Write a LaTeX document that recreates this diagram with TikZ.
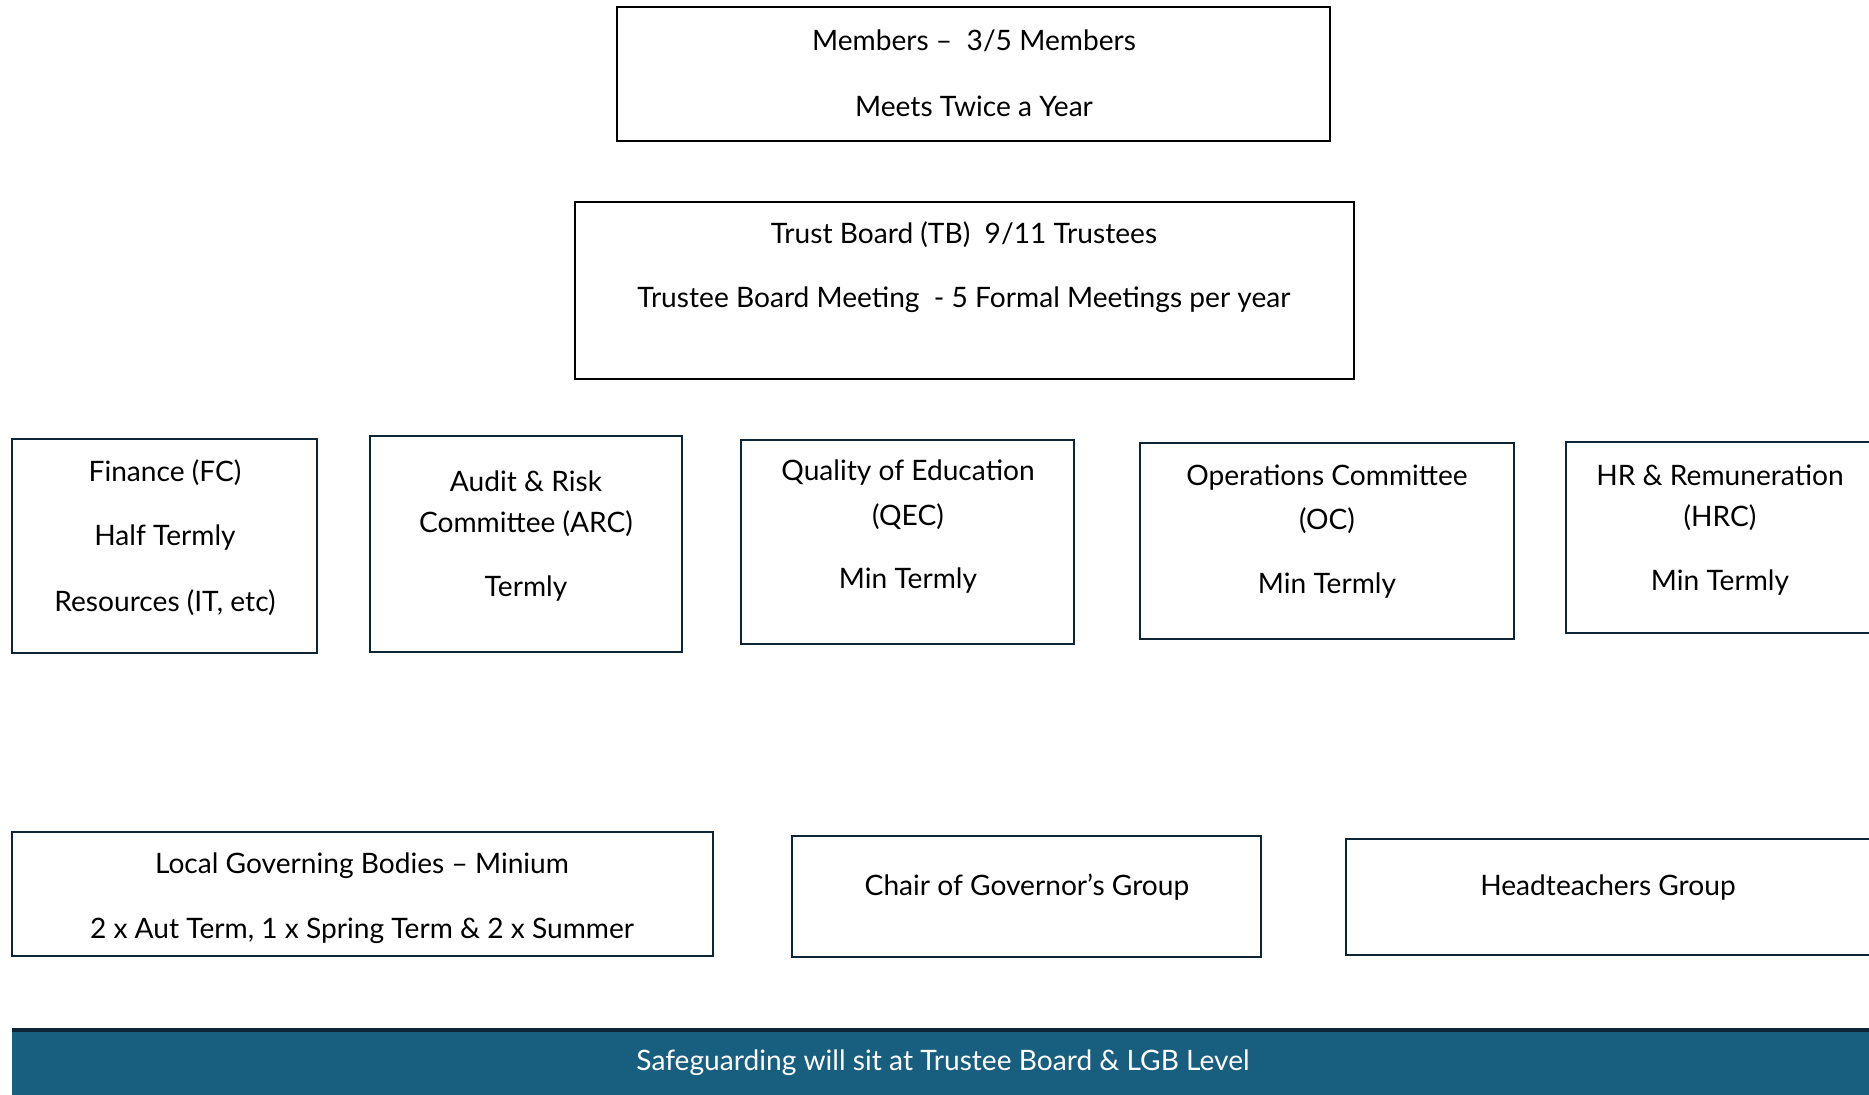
\documentclass[tikz,border=0pt]{standalone}
\usepackage{fontspec}
\setmainfont{Lato}
\definecolor{navy}{HTML}{0E2537}
\definecolor{barblue}{HTML}{185E7E}
\begin{document}
\begin{tikzpicture}[x=0.01cm,y=-0.01cm,
  topbox/.style={draw=black,line width=0.8pt,rectangle,inner sep=0pt},
  combox/.style={draw=navy,line width=0.8pt,rectangle,inner sep=0pt},
  txt/.style={font=\fontsize{8.0}{10}\selectfont,inner sep=0pt,anchor=center,text=black,yshift=-0.03cm}]
\useasboundingbox (0,0) rectangle (1869,1095);
% boxes
\draw[topbox] (617,7) rectangle (1330,141) node[pos=0.5,draw=none] (members) {};
\draw[topbox] (575,202) rectangle (1354,379) node[pos=0.5,draw=none] (tb) {};
\draw[combox] (12,439) rectangle (317,653) node[pos=0.5,draw=none] (fc) {};
\draw[combox] (370,436) rectangle (682,652) node[pos=0.5,draw=none] (arc) {};
\draw[combox] (741,440) rectangle (1074,644) node[pos=0.5,draw=none] (qec) {};
\draw[combox] (1140,443) rectangle (1514,639) node[pos=0.5,draw=none] (oc) {};
\draw[combox] (1566,442) rectangle (1900,633) node[pos=0.5,draw=none] (hrc) {};
\draw[combox] (12,832) rectangle (713,956) node[pos=0.5,draw=none] (lgb) {};
\draw[combox] (792,836) rectangle (1261,957) node[pos=0.5,draw=none] (cog) {};
\draw[combox] (1346,839) rectangle (1900,955) node[pos=0.5,draw=none] (ht) {};
\fill[barblue] (12,1030) rectangle (1900,1120);
\draw[navy,line width=0.9pt] (12,1030) -- (1900,1030);
\node[inner sep=0pt] (bar) at (956,1062) {};
% texts
\node[txt] (m1) at (974,38) {Members –\ \ 3/5 Members};
\node[txt] (m2) at (974,103) {Meets Twice a Year};
\node[txt] (t1) at (964,232) {Trust Board (TB)\ \ 9/11 Trustees};
\node[txt] (t2) at (964,297) {Trustee Board Meeting\ \ - 5 Formal Meetings per year};
\node[txt] (f1) at (165,470) {Finance (FC)};
\node[txt] (f2) at (165,535) {Half Termly};
\node[txt] (f3) at (165,600) {Resources (IT, etc)};
\node[txt] (a1) at (526,478) {Audit \& Risk};
\node[txt] (a2) at (526,521) {Committee (ARC)};
\node[txt] (a3) at (526,586) {Termly};
\node[txt] (q1) at (908,470) {Quality of Education};
\node[txt] (q2) at (908,514) {(QEC)};
\node[txt] (q3) at (908,578) {Min Termly};
\node[txt] (o1) at (1327,475) {Operations Committee};
\node[txt] (o2) at (1327,518) {(OC)};
\node[txt] (o3) at (1327,583) {Min Termly};
\node[txt] (h1) at (1720,472) {HR \& Remuneration};
\node[txt] (h2) at (1720,515) {(HRC)};
\node[txt] (h3) at (1720,580) {Min Termly};
\node[txt] (l1) at (362,863) {Local Governing Bodies – Minium};
\node[txt] (l2) at (362,928) {2 x Aut Term, 1 x Spring Term \& 2 x Summer};
\node[txt] (c1) at (1027,884) {Chair of Governor’s Group};
\node[txt] (hg1) at (1608,885) {Headteachers Group};
\node[txt,text=white] (s1) at (943,1060) {Safeguarding will sit at Trustee Board \& LGB Level};
\end{tikzpicture}
\end{document}
